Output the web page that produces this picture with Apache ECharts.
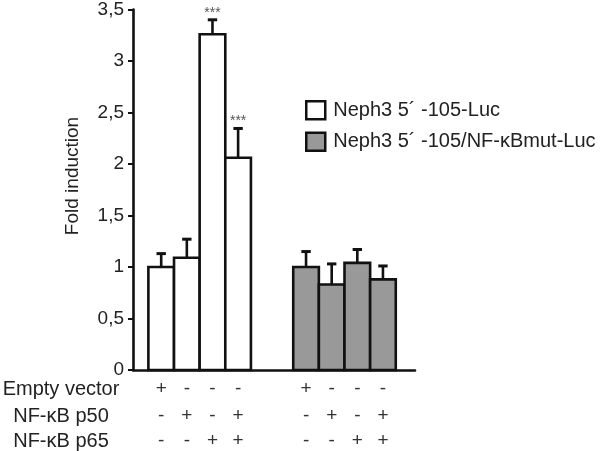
<!DOCTYPE html>
<html><head><meta charset="utf-8">
<script src="https://cdn.jsdelivr.net/npm/echarts@6/dist/echarts.min.js"></script>
<style>html,body{margin:0;padding:0;background:#fff}#c{width:600px;height:451px}</style>
</head><body><div id="c"></div>
<script>
// ---- data ----
const seriesNames = ['Neph3 5\u00b4 -105-Luc', 'Neph3 5\u00b4 -105/NF-\u03baBmut-Luc'];
const wildValues = [1.0, 1.09, 3.26, 2.06];
const wildErrors = [0.13, 0.18, 0.14, 0.285];
const mutValues = [1.0, 0.83, 1.04, 0.88];
const mutErrors = [0.15, 0.20, 0.13, 0.13];
const wildSig = ['', '', '***', '***'];
const mutSig = ['', '', '', ''];
const rowLabels = ['Empty vector', 'NF-\u03baB p50', 'NF-\u03baB p65'];
const emptyVector = ['+', '-', '-', '-'];
const p50 = ['-', '+', '-', '+'];
const p65 = ['-', '-', '+', '+'];
const yTickLabels = ['0', '0,5', '1', '1,5', '2', '2,5', '3', '3,5'];
const yAxisName = 'Fold induction';

// ---- layout ----
const FONT = '"Liberation Sans", Arial, Helvetica, sans-serif';
const groupStart = [0.6, 6.25];   // axis units (1 unit = one bar width)
const rowY = [389, 416, 441];
const INK = '#111';

function buildData(values, errors, g) {
  return values.map((v, i) => [groupStart[g] + 0.5 + i, v, errors[i], i]);
}

function makeRender(fill, sig) {
  return function (params, api) {
    const i = api.value(3);
    const x = api.value(0), v = api.value(1), e = api.value(2);
    const bl = api.coord([x - 0.5, 0]);
    const tr = api.coord([x + 0.5, v]);
    const top = api.coord([x, v]);
    const et = api.coord([x, v + e]);
    const cx = top[0];
    const children = [
      { type: 'line', shape: { x1: cx, y1: top[1], x2: cx, y2: et[1] }, style: { stroke: INK, lineWidth: 2.6 } },
      { type: 'line', shape: { x1: cx - 4.7, y1: et[1], x2: cx + 4.7, y2: et[1] }, style: { stroke: INK, lineWidth: 3 } },
      { type: 'rect', shape: { x: bl[0], y: tr[1], width: tr[0] - bl[0], height: bl[1] - tr[1] },
        style: { fill: fill, stroke: INK, lineWidth: 2.6 } }
    ];
    if (sig[i]) {
      children.push({ type: 'text', style: { text: sig[i], x: cx, y: et[1] - 7, align: 'center', verticalAlign: 'middle',
        fontSize: 14, fontFamily: FONT, fill: '#555' } });
    }
    [emptyVector, p50, p65].forEach((row, r) => {
      children.push({ type: 'text', style: { text: row[i], x: cx, y: rowY[r], align: 'center', verticalAlign: 'middle',
        fontSize: 19, fontFamily: FONT, fill: '#333' } });
    });
    return { type: 'group', children: children };
  };
}

const chart = echarts.init(document.getElementById('c'), null, { renderer: 'canvas' });
chart.setOption({
  animation: false,
  backgroundColor: '#fff',
  grid: { left: 133, right: 185, top: 9, bottom: 81 },
  legend: {
    orient: 'vertical', left: 300, top: 95, icon: 'rect', itemWidth: 19, itemHeight: 18, itemGap: 11,
    selectedMode: false,
    textStyle: { fontSize: 20, fontFamily: FONT, color: '#222', padding: [0, 0, 0, 3] },
    data: [
      { name: seriesNames[0], itemStyle: { color: '#fff', borderColor: INK, borderWidth: 2.5 } },
      { name: seriesNames[1], itemStyle: { color: '#999', borderColor: INK, borderWidth: 2.5 } }
    ]
  },
  xAxis: {
    type: 'value', min: 0, max: 11,
    axisLine: { show: true, onZero: false, lineStyle: { color: INK, width: 2.6 } },
    axisTick: { show: false }, axisLabel: { show: false }, splitLine: { show: false }
  },
  yAxis: {
    type: 'value', min: 0, max: 3.5, interval: 0.5,
    axisLine: { show: true, lineStyle: { color: INK, width: 2.6 } },
    axisTick: { show: true, length: 5, lineStyle: { color: INK, width: 2 } },
    axisLabel: { margin: 9, fontSize: 19, fontFamily: FONT, color: '#222', formatter: (v, idx) => yTickLabels[idx] },
    splitLine: { show: false }
  },
  graphic: [
    { type: 'text', x: 73, y: 176, rotation: Math.PI / 2,
      style: { text: yAxisName, align: 'center', verticalAlign: 'middle', fontSize: 19, fontFamily: FONT, fill: '#222' } }
  ].concat(rowLabels.map((t, r) => ({
    type: 'text', x: 61, y: rowY[r],
    style: { text: t, align: 'center', verticalAlign: 'middle', fontSize: 20, fontFamily: FONT, fill: '#222' }
  }))),
  series: [
    { type: 'custom', name: seriesNames[0], renderItem: makeRender('#fff', wildSig), data: buildData(wildValues, wildErrors, 0),
      itemStyle: { color: '#fff', borderColor: INK }, clip: false, silent: true },
    { type: 'custom', name: seriesNames[1], renderItem: makeRender('#999', mutSig), data: buildData(mutValues, mutErrors, 1),
      itemStyle: { color: '#999', borderColor: INK }, clip: false, silent: true }
  ]
});
</script></body></html>
